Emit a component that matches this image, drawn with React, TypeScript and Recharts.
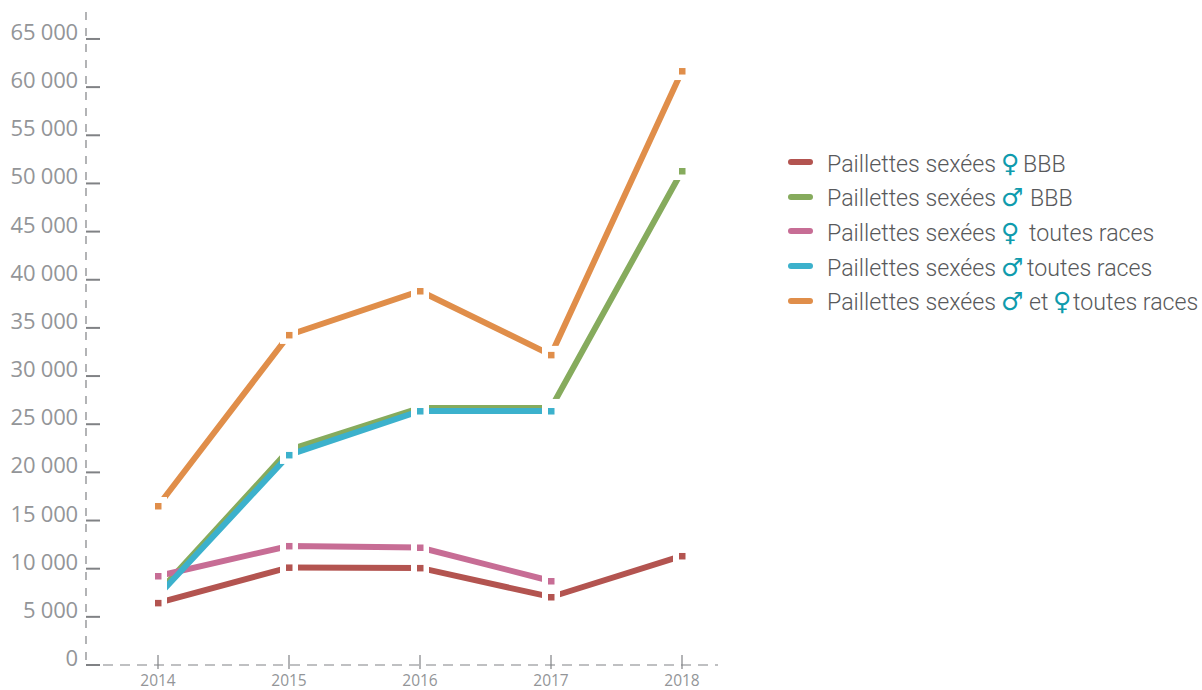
import React from "react";
import { LineChart, Line, XAxis, YAxis, Legend } from "recharts";

const years = ["2014", "2015", "2016", "2017", "2018"];
const redValues = [6450, 10130, 10080, 7060, 11320];
const greenValues = [7500, 22330, 26690, 26690, 51290];
const pinkValues = [9240, 12360, 12200, 8720, null];
const blueValues = [7190, 21810, 26370, 26370, null];
const orangeValues = [16510, 34270, 38830, 32200, 61670];
const yTicks = [0, 5000, 10000, 15000, 20000, 25000, 30000, 35000, 40000, 45000, 50000, 55000, 60000, 65000];
const yLabels = ["0", "5 000", "10 000", "15 000", "20 000", "25 000", "30 000", "35 000", "40 000", "45 000", "50 000", "55 000", "60 000", "65 000"];

const RED = "#b35450", GREEN = "#86ab5d", PINK = "#c76d95", BLUE = "#3cb1cc", ORANGE = "#e08e4a";
const AXIS = "#808285";
const TEAL = "#0f9bad";

const data = years.map((year, i) => ({
  year,
  red: redValues[i],
  green: greenValues[i],
  pink: pinkValues[i],
  blue: blueValues[i],
  orange: orangeValues[i],
}));

const series = [
  { key: "green", color: GREEN, hideFirst: true },
  { key: "pink", color: PINK, hideFirst: false },
  { key: "blue", color: BLUE, hideFirst: true },
  { key: "orange", color: ORANGE, hideFirst: false },
  { key: "red", color: RED, hideFirst: false },
];

const legendColors = [RED, GREEN, PINK, BLUE, ORANGE];
const legendParts = [
  ["Paillettes sexées", "♀", "BBB"],
  ["Paillettes sexées", "♂", "BBB"],
  ["Paillettes sexées", "♀", "toutes races"],
  ["Paillettes sexées", "♂", "toutes races"],
  ["Paillettes sexées", "♂", "et", "♀", "toutes races"],
];
const legendOffsets = [
  [0, 174, 196],
  [0, 174, 203],
  [0, 174, 202],
  [0, 174, 200],
  [0, 174, 202, 226, 246],
];

const XTick = (p: any) => (
  <g>
    <line x1={p.x} x2={p.x} y1={655} y2={669} stroke={AXIS} strokeWidth={1.2} />
    <text x={p.x} y={686} textAnchor="middle" fontSize={15.5} fontFamily="Open Sans" fill="#939598">
      {p.payload.value}
    </text>
  </g>
);

const YTick = (p: any) => (
  <g>
    <line x1={p.x} x2={p.x + 14} y1={p.y} y2={p.y} stroke={AXIS} strokeWidth={2} />
    <text x={p.x - 8} y={p.y + 1} textAnchor="end" fontSize={22} fontFamily="Open Sans" letterSpacing={-0.2} fill="#939598">
      {yLabels[yTicks.indexOf(p.payload.value)]}
    </text>
  </g>
);

const makeDot = (color: string, hideFirst: boolean) => (p: any) => {
  if (p.value == null || p.cy == null) return <g key={p.key} />;
  return (
    <g key={p.key}>
      <rect x={p.cx - 9} y={p.cy - 9} width={18} height={18} fill="#fff" />
      {hideFirst && p.index === 0 ? null : (
        <rect x={p.cx - 3} y={p.cy - 3} width={6.5} height={6.5} fill={color} />
      )}
    </g>
  );
};

const LegendBox = () => (
  <div style={{ position: "absolute", left: 788, top: 146.5, fontFamily: "Roboto", fontWeight: 300, fontSize: 23.2, color: "#58595b" }}>
    {legendParts.map((parts, i) => (
      <div key={i} style={{ position: "relative", width: 414, height: 34.7, lineHeight: "34.7px", whiteSpace: "pre" }}>
        <span style={{ position: "absolute", left: 0, top: 12.5, width: 25, height: 6, borderRadius: 3, background: legendColors[i] }} />
        {parts.map((t, j) =>
          t === "♀" || t === "♂" ? (
            <span key={j} style={{ position: "absolute", left: 39 + legendOffsets[i][j], color: TEAL, fontFamily: "DejaVu Sans", fontWeight: 700, fontSize: 25 }}>{t}</span>
          ) : (
            <span key={j} style={{ position: "absolute", left: 39 + legendOffsets[i][j] }}>{t}</span>
          )
        )}
      </div>
    ))}
  </div>
);

export default function App() {
  return (
    <div style={{ position: "absolute", left: 0, top: 0, width: 1202, height: 690 }}>
      <LineChart width={1202} height={690} data={data} margin={{ top: 12, right: 484, bottom: 0, left: 0 }}>
        <XAxis
          dataKey="year"
          height={25}
          padding={{ left: 72, right: 36 }}
          axisLine={{ stroke: AXIS, strokeWidth: 1.2, strokeDasharray: "10 7" }}
          tickLine={false}
          tick={<XTick />}
          interval={0}
        />
        <YAxis
          width={86}
          domain={[0, 67800]}
          ticks={yTicks}
          interval={0}
          tickSize={0}
          tickMargin={0}
          axisLine={{ stroke: AXIS, strokeWidth: 1.2, strokeDasharray: "8 8" }}
          tickLine={false}
          tick={<YTick />}
        />
        {series.map((s) => (
          <Line
            key={s.key}
            dataKey={s.key}
            stroke={s.color}
            strokeWidth={6}
            dot={makeDot(s.color, s.hideFirst)}
            activeDot={false}
            connectNulls={false}
            strokeLinejoin="miter"
            isAnimationActive={false}
            legendType="none"
          />
        ))}
        <Legend content={() => <LegendBox />} wrapperStyle={{ position: "absolute", left: 0, top: 0, width: 0, height: 0 }} />
      </LineChart>
    </div>
  );
}
